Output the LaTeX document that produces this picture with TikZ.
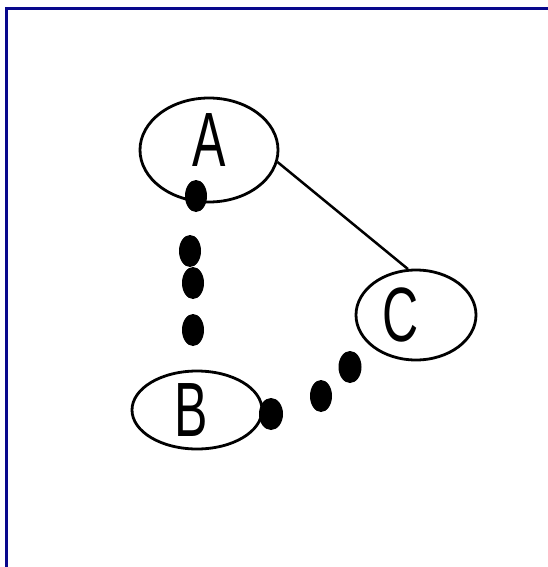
\documentclass[tikz,border=0pt]{standalone}
\usepackage{fontspec}
\usepackage{graphicx}
\setmainfont{Liberation Sans}
\usetikzlibrary{shapes.geometric}
\definecolor{framenavy}{RGB}{8,8,140}
\newcommand{\narrow}[1]{\scalebox{0.65}[1]{#1}}

\begin{document}
\begin{tikzpicture}[x=1pt, y=-1pt,
		bubble/.style={draw, ellipse, line width=2.8pt, inner sep=0pt, font=\fontsize{77}{77}\selectfont},
		blob/.style={fill=black, ellipse, inner sep=0pt, minimum width=22pt, minimum height=32pt}]
				\useasboundingbox (0, 0) rectangle (548, 567);
				\fill[white] (0, 0) rectangle (548, 567);
				\draw[framenavy, line width=3pt] (6.5, 567) -- (6.5, 8.5) -- (548, 8.5);
				
				% the three bubbles
				\node[bubble, minimum width=138pt, minimum height=104pt, text height=33pt, text depth=0pt] (A) at (209, 150) {\narrow{A}};
				\node[bubble, minimum width=130pt, minimum height=78pt] (B) at (197, 410) {\narrow{B}\kern12pt};
				\node[bubble, minimum width=120pt, minimum height=90pt] (C) at (416, 315) {\narrow{C}\kern30pt};
				
				\draw[line width=2.5pt] (A.-10) -- (C.100);
				
				% dots from A down to B
				\node[blob] (ab1) at (196, 196) {};
				\node[blob] (ab2) at (190, 251) {};
				\node[blob] (ab3) at (193, 283) {};
				\node[blob] (ab4) at (193, 330) {};
				
				% dots from B over to C
				\node[blob, minimum width=24pt] (bc1) at (271, 414) {};
				\node[blob] (bc2) at (321, 396) {};
				\node[blob, minimum width=23pt] (bc3) at (350, 367) {};
\end{tikzpicture}
\end{document}
